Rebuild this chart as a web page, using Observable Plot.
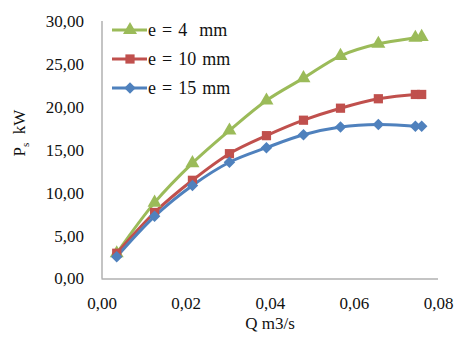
<!DOCTYPE html>
<html>
<head>
<meta charset="utf-8">
<script src="https://cdn.jsdelivr.net/npm/d3@7"></script>
<script src="https://cdn.jsdelivr.net/npm/@observablehq/plot@0.6"></script>
<style>
  html, body { margin: 0; padding: 0; background: #fff; }
  #chart { width: 457px; height: 343px; }
</style>
</head>
<body>
<div id="chart"></div>
<script>
// Flow rate Q (m3/s) for each measured point
const flow = [0.0035, 0.0125, 0.0215, 0.0303, 0.0391, 0.0479, 0.0567, 0.0657, 0.0745, 0.0760];

// Shaft power Ps (kW) for each gap e
const powerE4  = [3.0, 8.9, 13.5, 17.3, 20.8, 23.4, 26.0, 27.4, 28.1, 28.2];
const powerE10 = [3.0, 7.75, 11.5, 14.6, 16.7, 18.5, 19.9, 21.0, 21.5, 21.5];
const powerE15 = [2.6, 7.3, 10.9, 13.6, 15.3, 16.8, 17.7, 18.0, 17.8, 17.8];

const seriesNames  = ["e = 4  mm", "e = 10 mm", "e = 15 mm"];
const seriesColors = ["#9BBB59", "#C0504D", "#4F81BD"];
const seriesSymbols = ["triangle", "square", "diamond2"];

const xTicks = [0, 0.02, 0.04, 0.06, 0.08];
const yTicks = [0, 5, 10, 15, 20, 25, 30];

const rows = [];
[powerE4, powerE10, powerE15].forEach((vals, s) => {
  vals.forEach((p, i) => rows.push({series: seriesNames[s], q: flow[i], p}));
});

const fmt = v => d3.format(".2f")(v).replace(".", ",");
const serif = "'Liberation Serif', 'Times New Roman', serif";

const chart = Plot.plot({
  width: 457,
  height: 343,
  marginLeft: 101.5,
  marginRight: 19,
  marginTop: 21,
  marginBottom: 64.5,
  style: {fontFamily: serif, fontSize: "17px", color: "#111", background: "#fff"},
  x: {domain: [0, 0.08], label: null},
  y: {domain: [0, 30], label: null},
  color: {domain: seriesNames, range: seriesColors},
  symbol: {domain: seriesNames, range: seriesSymbols},
  marks: [
    Plot.axisX({ticks: xTicks, tickFormat: fmt, tickSize: 0, tickPadding: 18, fontFamily: serif, fontSize: 17, label: null}),
    Plot.axisY({ticks: yTicks, tickFormat: fmt, tickSize: 0, tickPadding: 18, fontFamily: serif, fontSize: 17, label: null}),
    Plot.ruleX([0], {stroke: "#898989", strokeWidth: 1}),
    Plot.ruleY([0], {stroke: "#898989", strokeWidth: 1}),
    Plot.line(rows, {x: "q", y: "p", z: "series", stroke: "series", strokeWidth: 3, curve: "catmull-rom"}),
    Plot.dot(rows, {x: "q", y: "p", fill: "series", symbol: "series", r: 5.2, stroke: null})
  ]
});

const svg = d3.select(chart);

// Legend in the upper-left corner of the plot area
const legend = svg.append("g").attr("class", "legend");
const sym = {triangle: d3.symbolTriangle, square: d3.symbolSquare, diamond2: d3.symbolDiamond2};
seriesNames.forEach((name, i) => {
  const y = 30 + i * 29;
  legend.append("line")
    .attr("x1", 112).attr("x2", 147).attr("y1", y).attr("y2", y)
    .attr("stroke", seriesColors[i]).attr("stroke-width", 3);
  legend.append("path")
    .attr("transform", `translate(130,${y})`)
    .attr("d", d3.symbol(sym[seriesSymbols[i]], Math.PI * 5.2 * 5.2)())
    .attr("fill", seriesColors[i]);
  legend.append("text")
    .attr("x", 148).attr("y", y + 6)
    .attr("text-anchor", "start")
    .style("font-size", "18px")
    .style("word-spacing", "1.5px")
    .style("white-space", "pre")
    .text(name);
});

// Axis titles
svg.append("text")
  .attr("x", 270).attr("y", 329)
  .attr("text-anchor", "middle").style("font-size", "17px")
  .text("Q m3/s");

const yTitle = svg.append("text")
  .attr("transform", "translate(25,133) rotate(-90)")
  .attr("text-anchor", "middle").style("font-size", "17px");
yTitle.append("tspan").text("P");
yTitle.append("tspan").style("font-size", "11px").attr("dy", 4).text("s");
yTitle.append("tspan").attr("dy", -4).style("white-space", "pre").text("  kW");

// One serif face and near-black ink for every label
svg.selectAll("text").style("font-family", serif, "important").attr("fill", "#111");

document.getElementById("chart").appendChild(chart);
</script>
</body>
</html>
